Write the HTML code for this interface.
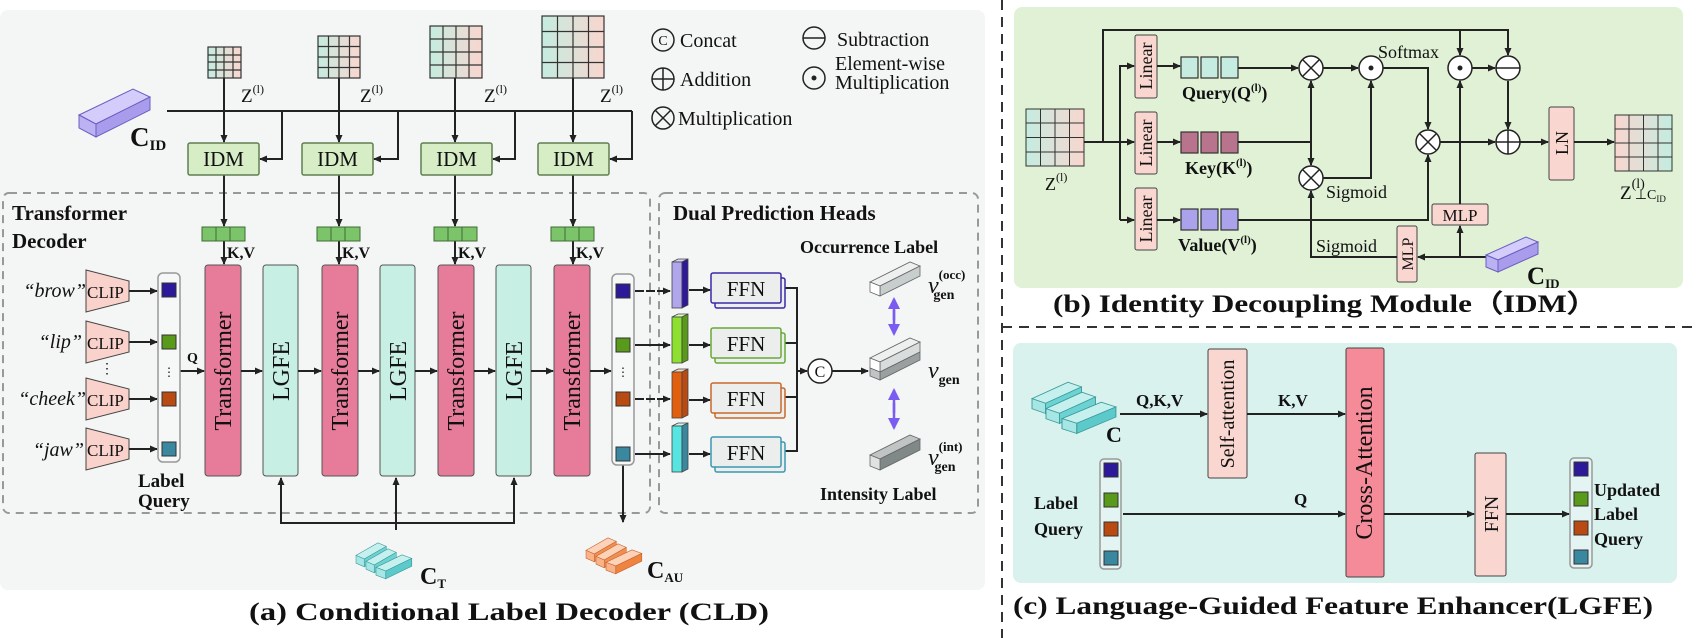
<!DOCTYPE html>
<html><head><meta charset="utf-8"><style>
body{margin:0;background:#fff}
svg{display:block}
text{font-family:"Liberation Serif",serif;fill:#111}
.b{font-weight:bold}
.i{font-style:italic}
</style></head><body>
<svg width="1696" height="638" viewBox="0 0 1696 638" xmlns="http://www.w3.org/2000/svg">
<defs>
<marker id="a" markerWidth="8" markerHeight="8" refX="7" refY="4" orient="auto" markerUnits="userSpaceOnUse"><path d="M0,0.5 L8,4 L0,7.5 Z" fill="#222"/></marker>
<marker id="p" markerWidth="12" markerHeight="12" refX="10" refY="6" orient="auto" markerUnits="userSpaceOnUse"><path d="M0,0 L12,6 L0,12 Z" fill="#7a5cf0"/></marker>
<linearGradient id="g" x1="0" x2="1"><stop offset="0" stop-color="#c4ece0"/><stop offset="1" stop-color="#f9d6cf"/></linearGradient>
<linearGradient id="g2" x1="1" x2="0"><stop offset="0" stop-color="#c4ece0"/><stop offset="1" stop-color="#f9d6cf"/></linearGradient>
</defs>

<rect x="0" y="10" width="985" height="580" rx="8" fill="#f4f5f5"/>
<rect x="1014" y="7" width="669" height="281" rx="8" fill="#e0f1d6"/>
<rect x="1013" y="343" width="664" height="240" rx="8" fill="#d9f2ed"/>
<line x1="1002" y1="0" x2="1002" y2="638" stroke="#333" stroke-width="2" stroke-dasharray="10,7"/>
<line x1="1002" y1="327" x2="1696" y2="327" stroke="#333" stroke-width="2" stroke-dasharray="10,7"/>

<rect x="3" y="193" width="647" height="320" rx="6" fill="none" stroke="#999" stroke-width="2" stroke-dasharray="8,6"/>
<rect x="659" y="193" width="319" height="320" rx="6" fill="none" stroke="#999" stroke-width="2" stroke-dasharray="8,6"/>

<g stroke="#333" stroke-width="1.2">
<rect x="208" y="47" width="33" height="31" fill="url(#g)"/>
<path d="M216,47V78M224,47V78M233,47V78M208,55H241M208,62H241M208,70H241" fill="none"/>
<rect x="318" y="36" width="42" height="42" fill="url(#g)"/>
<path d="M328.5,36V78M339,36V78M349.5,36V78M318,46.5H360M318,57H360M318,67.5H360" fill="none"/>
<rect x="430" y="26" width="52" height="52" fill="url(#g)"/>
<path d="M443,26V78M456,26V78M469,26V78M430,39H482M430,52H482M430,65H482" fill="none"/>
<rect x="542" y="16" width="62" height="62" fill="url(#g)"/>
<path d="M557.5,16V78M573,16V78M588.5,16V78M542,31.5H604M542,47H604M542,62.5H604" fill="none"/>
</g>
<g font-size="19">
<text x="241" y="102">Z<tspan font-size="12" dy="-9">(l)</tspan></text>
<text x="360" y="102">Z<tspan font-size="12" dy="-9">(l)</tspan></text>
<text x="484" y="102">Z<tspan font-size="12" dy="-9">(l)</tspan></text>
<text x="600" y="102">Z<tspan font-size="12" dy="-9">(l)</tspan></text>
</g>
<g stroke="#222" stroke-width="2" fill="none">
<line x1="224" y1="78" x2="224" y2="142" marker-end="url(#a)"/>
<line x1="339" y1="78" x2="339" y2="142" marker-end="url(#a)"/>
<line x1="455" y1="78" x2="455" y2="142" marker-end="url(#a)"/>
<line x1="573" y1="78" x2="573" y2="142" marker-end="url(#a)"/>
<line x1="167" y1="111" x2="632" y2="111"/>
<path d="M282,111V159H260" marker-end="url(#a)"/>
<path d="M398,111V159H374" marker-end="url(#a)"/>
<path d="M515,111V159H493" marker-end="url(#a)"/>
<path d="M632,111V159H610" marker-end="url(#a)"/>
<line x1="224" y1="175" x2="224" y2="226" marker-end="url(#a)"/>
<line x1="339" y1="175" x2="339" y2="226" marker-end="url(#a)"/>
<line x1="455" y1="175" x2="455" y2="226" marker-end="url(#a)"/>
<line x1="573" y1="175" x2="573" y2="226" marker-end="url(#a)"/>
<line x1="224" y1="241" x2="224" y2="264" marker-end="url(#a)"/>
<line x1="339" y1="241" x2="339" y2="264" marker-end="url(#a)"/>
<line x1="455" y1="241" x2="455" y2="264" marker-end="url(#a)"/>
<line x1="573" y1="241" x2="573" y2="264" marker-end="url(#a)"/>
</g>
<g fill="#d6edc6" stroke="#5f7f50" stroke-width="1.5">
<rect x="188" y="143" width="71" height="32" rx="2"/>
<rect x="302" y="143" width="71" height="32" rx="2"/>
<rect x="421" y="143" width="71" height="32" rx="2"/>
<rect x="538" y="143" width="71" height="32" rx="2"/>
</g>
<g font-size="21" text-anchor="middle">
<text x="223.5" y="166">IDM</text><text x="337.5" y="166">IDM</text><text x="456.5" y="166">IDM</text><text x="573.5" y="166">IDM</text>
</g>
<g stroke="#6a5fc0" stroke-width="1">
<polygon points="79,115 133,89 150,97 96,124" fill="#d4cdfb"/>
<polygon points="96,124 150,97 150,110 96,137" fill="#a99cec"/>
<polygon points="79,115 96,124 96,137 79,128" fill="#bcb2f3"/>
</g>
<text x="130" y="146" font-size="27" class="b">C<tspan font-size="15" dy="4">ID</tspan></text>

<g fill="none" stroke="#222" stroke-width="1.5">
<circle cx="663" cy="40" r="11"/><circle cx="663" cy="79" r="11"/><path d="M652,79H674M663,68V90"/>
<circle cx="663" cy="118" r="11"/><path d="M655,110L671,126M671,110L655,126"/>
<circle cx="814" cy="38" r="11"/><path d="M803,38H825"/>
<circle cx="814" cy="78" r="11"/>
</g>
<circle cx="814" cy="78" r="2.5" fill="#222"/>
<text x="663" y="45" font-size="14" text-anchor="middle">C</text>
<g font-size="20">
<text x="680" y="47">Concat</text><text x="680" y="86">Addition</text><text x="678" y="125">Multiplication</text>
<text x="837" y="46">Subtraction</text><text x="835" y="70">Element-wise</text><text x="835" y="89">Multiplication</text>
</g>

<text x="12" y="220" font-size="21" class="b">Transformer</text>
<text x="12" y="248" font-size="21" class="b">Decoder</text>
<g fill="#7cc46a" stroke="#3f6a33" stroke-width="1">
<rect x="202" y="227" width="14" height="14"/><rect x="216" y="227" width="14" height="14"/><rect x="230" y="227" width="15" height="14"/>
<rect x="317" y="227" width="14" height="14"/><rect x="331" y="227" width="14" height="14"/><rect x="345" y="227" width="15" height="14"/>
<rect x="434" y="227" width="14" height="14"/><rect x="448" y="227" width="14" height="14"/><rect x="462" y="227" width="15" height="14"/>
<rect x="551" y="227" width="14" height="14"/><rect x="565" y="227" width="14" height="14"/><rect x="579" y="227" width="15" height="14"/>
</g>
<g font-size="16" class="b">
<text x="227" y="258">K,V</text><text x="342" y="258">K,V</text><text x="458" y="258">K,V</text><text x="576" y="258">K,V</text>
</g>
<g stroke="#555" stroke-width="1">
<rect x="205" y="265" width="36" height="211" rx="3" fill="#e77c9a"/>
<rect x="322" y="265" width="36" height="211" rx="3" fill="#e77c9a"/>
<rect x="438" y="265" width="36" height="211" rx="3" fill="#e77c9a"/>
<rect x="554" y="265" width="36" height="211" rx="3" fill="#e77c9a"/>
<rect x="263" y="265" width="35" height="211" rx="3" fill="#c7efe3"/>
<rect x="380" y="265" width="35" height="211" rx="3" fill="#c7efe3"/>
<rect x="496" y="265" width="35" height="211" rx="3" fill="#c7efe3"/>
</g>
<g font-size="24" text-anchor="middle">
<text transform="translate(231,371) rotate(-90)">Transformer</text>
<text transform="translate(348,371) rotate(-90)">Transformer</text>
<text transform="translate(464,371) rotate(-90)">Transformer</text>
<text transform="translate(580,371) rotate(-90)">Transformer</text>
<text transform="translate(289,371) rotate(-90)">LGFE</text>
<text transform="translate(406,371) rotate(-90)">LGFE</text>
<text transform="translate(522,371) rotate(-90)">LGFE</text>
</g>
<g stroke="#222" stroke-width="2" fill="none">
<line x1="180" y1="371" x2="204" y2="371" marker-end="url(#a)"/>
<line x1="241" y1="371" x2="262" y2="371" marker-end="url(#a)"/>
<line x1="298" y1="371" x2="321" y2="371" marker-end="url(#a)"/>
<line x1="358" y1="371" x2="379" y2="371" marker-end="url(#a)"/>
<line x1="415" y1="371" x2="437" y2="371" marker-end="url(#a)"/>
<line x1="474" y1="371" x2="495" y2="371" marker-end="url(#a)"/>
<line x1="531" y1="371" x2="553" y2="371" marker-end="url(#a)"/>
<line x1="590" y1="371" x2="611" y2="371" marker-end="url(#a)"/>
<path d="M396,530V523H281V478" marker-end="url(#a)"/>
<path d="M396,530V478" marker-end="url(#a)"/>
<path d="M396,523H514V478" marker-end="url(#a)"/>
<line x1="623" y1="465" x2="623" y2="522" marker-end="url(#a)"/>
</g>
<text x="187" y="362" font-size="14" class="b">Q</text>
<g fill="#f9d2cc" stroke="#444" stroke-width="1">
<polygon points="86,270 129,281 129,301 86,312"/>
<polygon points="86,321 129,332 129,352 86,363"/>
<polygon points="86,378 129,389 129,409 86,420"/>
<polygon points="86,428 129,439 129,459 86,470"/>
</g>
<g font-size="17">
<text x="87" y="298">CLIP</text><text x="87" y="349">CLIP</text><text x="87" y="406">CLIP</text><text x="87" y="456">CLIP</text>
</g>
<g font-size="20" class="i" text-anchor="end">
<text x="86" y="297">“brow”</text><text x="82" y="348">“lip”</text><text x="86" y="405">“cheek”</text><text x="84" y="456">“jaw”</text>
</g>
<text x="107" y="373" font-size="14" text-anchor="middle">⋮</text>
<g stroke="#222" stroke-width="2">
<line x1="129" y1="291" x2="157" y2="291" marker-end="url(#a)"/>
<line x1="129" y1="342" x2="157" y2="342" marker-end="url(#a)"/>
<line x1="129" y1="399" x2="157" y2="399" marker-end="url(#a)"/>
<line x1="129" y1="449" x2="157" y2="449" marker-end="url(#a)"/>
</g>
<rect x="158" y="273" width="22" height="189" rx="5" fill="#f6f7f7" stroke="#999" stroke-width="1.5"/>
<rect x="612" y="274" width="22" height="191" rx="5" fill="#f6f7f7" stroke="#999" stroke-width="1.5"/>
<g stroke="#333" stroke-width="1">
<rect x="162" y="283" width="14" height="14" fill="#2d1a9a"/><rect x="162" y="335" width="14" height="14" fill="#5a9a1a"/>
<rect x="162" y="392" width="14" height="14" fill="#b84a12"/><rect x="162" y="442" width="14" height="14" fill="#3a88a0"/>
<rect x="616" y="284" width="14" height="14" fill="#2d1a9a"/><rect x="616" y="338" width="14" height="14" fill="#5a9a1a"/>
<rect x="616" y="392" width="14" height="14" fill="#b84a12"/><rect x="616" y="447" width="14" height="14" fill="#3a88a0"/>
</g>
<text x="169" y="376" font-size="12" text-anchor="middle">⋮</text>
<text x="623" y="376" font-size="12" text-anchor="middle">⋮</text>
<text x="138" y="487" font-size="19" class="b">Label</text>
<text x="138" y="507" font-size="19" class="b">Query</text>

<g stroke="#3a9a9a" stroke-width="1">
<g transform="translate(356,538) scale(0.55,0.6)"><polygon points="0,29 40,8 55,14 15,35" fill="#c6f0ee"/><polygon points="15,35 55,14 55,27 15,48" fill="#6dd2d2"/><polygon points="0,29 15,35 15,48 0,42" fill="#a6e6e4"/></g>
<g transform="translate(366,544) scale(0.55,0.6)"><polygon points="0,29 40,8 55,14 15,35" fill="#c6f0ee"/><polygon points="15,35 55,14 55,27 15,48" fill="#6dd2d2"/><polygon points="0,29 15,35 15,48 0,42" fill="#a6e6e4"/></g>
<g transform="translate(376,550) scale(0.65,0.6)"><polygon points="0,29 40,8 55,14 15,35" fill="#c6f0ee"/><polygon points="15,35 55,14 55,27 15,48" fill="#5ccaca"/><polygon points="0,29 15,35 15,48 0,42" fill="#a6e6e4"/></g>
</g>
<text x="420" y="584" font-size="24" class="b">C<tspan font-size="13" dy="4">T</tspan></text>
<g stroke="#c8602a" stroke-width="1">
<g transform="translate(586,533) scale(0.55,0.6)"><polygon points="0,29 40,8 55,14 15,35" fill="#fcd2b8"/><polygon points="15,35 55,14 55,27 15,48" fill="#f09050"/><polygon points="0,29 15,35 15,48 0,42" fill="#f8b488"/></g>
<g transform="translate(596,539) scale(0.55,0.6)"><polygon points="0,29 40,8 55,14 15,35" fill="#fcd2b8"/><polygon points="15,35 55,14 55,27 15,48" fill="#f09050"/><polygon points="0,29 15,35 15,48 0,42" fill="#f8b488"/></g>
<g transform="translate(606,545) scale(0.65,0.6)"><polygon points="0,29 40,8 55,14 15,35" fill="#fcd2b8"/><polygon points="15,35 55,14 55,27 15,48" fill="#ee8440"/><polygon points="0,29 15,35 15,48 0,42" fill="#f8b488"/></g>
</g>
<text x="647" y="578" font-size="24" class="b">C<tspan font-size="13" dy="4">AU</tspan></text>

<text x="673" y="220" font-size="21" class="b">Dual Prediction Heads</text>
<text x="800" y="253" font-size="18" class="b">Occurrence Label</text>
<text x="820" y="500" font-size="18" class="b">Intensity Label</text>
<g stroke="#222" stroke-width="2" fill="none">
<line x1="635" y1="291" x2="670" y2="291" stroke-dasharray="9,2" marker-end="url(#a)"/>
<line x1="635" y1="345" x2="670" y2="345" marker-end="url(#a)"/>
<line x1="635" y1="399" x2="670" y2="399" stroke-dasharray="9,2" marker-end="url(#a)"/>
<line x1="635" y1="454" x2="670" y2="454" marker-end="url(#a)"/>
<line x1="689" y1="290" x2="710" y2="290" marker-end="url(#a)"/>
<line x1="689" y1="345" x2="710" y2="345" marker-end="url(#a)"/>
<line x1="689" y1="400" x2="710" y2="400" marker-end="url(#a)"/>
<line x1="689" y1="454" x2="710" y2="454" marker-end="url(#a)"/>
<path d="M785,288H797V451H785M785,343H797M785,397H797"/>
<line x1="797" y1="371" x2="807" y2="371" marker-end="url(#a)"/>
<line x1="832" y1="371" x2="868" y2="371" marker-end="url(#a)"/>
</g>
<g stroke="#444" stroke-width="0.8">
<polygon points="672,262 678,259 688,259 682,262" fill="#d8d0f8"/><rect x="672" y="262" width="10" height="46" fill="#b0a6ec"/><polygon points="682,262 688,259 688,305 682,308" fill="#2e1a98"/>
<polygon points="672,317 678,314 688,314 682,317" fill="#dff8c8"/><rect x="672" y="317" width="10" height="46" fill="#8ee030"/><polygon points="682,317 688,314 688,360 682,363" fill="#5a9a1a"/>
<polygon points="672,372 678,369 688,369 682,372" fill="#f8d4bc"/><rect x="672" y="372" width="10" height="46" fill="#e06010"/><polygon points="682,372 688,369 688,415 682,418" fill="#b84a12"/>
<polygon points="672,426 678,423 688,423 682,426" fill="#ccf4ee"/><rect x="672" y="426" width="10" height="46" fill="#58e4e0"/><polygon points="682,426 688,423 688,469 682,472" fill="#3a88a0"/>
</g>
<g stroke-width="1.5" fill="#eceeee">
<rect x="715" y="278" width="70" height="30" rx="2" stroke="#3a2aa8"/><rect x="711" y="273" width="70" height="30" rx="2" stroke="#3a2aa8"/>
<rect x="715" y="333" width="70" height="30" rx="2" stroke="#68a838"/><rect x="711" y="328" width="70" height="30" rx="2" stroke="#68a838"/>
<rect x="715" y="388" width="70" height="30" rx="2" stroke="#c8682a"/><rect x="711" y="383" width="70" height="30" rx="2" stroke="#c8682a"/>
<rect x="715" y="442" width="70" height="30" rx="2" stroke="#3a98b0"/><rect x="711" y="437" width="70" height="30" rx="2" stroke="#3a98b0"/>
</g>
<g font-size="21" text-anchor="middle">
<text x="746" y="296">FFN</text><text x="746" y="351">FFN</text><text x="746" y="406">FFN</text><text x="746" y="460">FFN</text>
</g>
<circle cx="820" cy="371" r="12" fill="#fff" stroke="#222" stroke-width="1.5"/>
<text x="820" y="377" font-size="16" text-anchor="middle">C</text>
<g stroke="#666" stroke-width="0.8">
<polygon points="870,282 910,262 920,266 880,286" fill="#eef0f0"/><polygon points="880,286 920,266 920,276 880,296" fill="#c8cdcd"/><polygon points="870,282 880,286 880,296 870,292" fill="#fff"/>
<polygon points="870,358 910,338 920,342 880,362" fill="#eef0f0"/><polygon points="880,362 920,342 920,352 880,372" fill="#d8dcdc"/><polygon points="880,372 920,352 920,360 880,380" fill="#9aa0a0"/><polygon points="870,358 880,362 880,372 870,368" fill="#fff"/><polygon points="870,368 880,372 880,380 870,376" fill="#c0c4c4"/>
<polygon points="870,455 910,435 920,439 880,459" fill="#c0c4c4"/><polygon points="880,459 920,439 920,450 880,470" fill="#808888"/><polygon points="870,455 880,459 880,470 870,466" fill="#e0e2e2"/>
</g>
<g stroke="#7a5cf0" stroke-width="2.5">
<line x1="894" y1="320" x2="894" y2="299" marker-end="url(#p)"/><line x1="894" y1="310" x2="894" y2="334" marker-end="url(#p)"/>
<line x1="894" y1="413" x2="894" y2="390" marker-end="url(#p)"/><line x1="894" y1="403" x2="894" y2="428" marker-end="url(#p)"/>
</g>
<g font-size="24" class="i">
<text x="928" y="293">v<tspan font-size="13" font-style="normal" font-weight="bold" dy="-14">(occ)</tspan><tspan font-size="14" font-style="normal" font-weight="bold" dx="-32" dy="20">gen</tspan></text>
<text x="928" y="378">v<tspan font-size="14" font-style="normal" font-weight="bold" dy="6">gen</tspan></text>
<text x="928" y="465">v<tspan font-size="13" font-style="normal" font-weight="bold" dy="-14">(int)</tspan><tspan font-size="14" font-style="normal" font-weight="bold" dx="-28" dy="20">gen</tspan></text>
</g>
<text x="509" y="620" font-size="25" class="b" text-anchor="middle" textLength="520" lengthAdjust="spacingAndGlyphs">(a) Conditional Label Decoder (CLD)</text>

<rect x="1026" y="109" width="58" height="57" fill="url(#g)" stroke="#333"/>
<path d="M1040.5,109V166M1055,109V166M1069.5,109V166M1026,123H1084M1026,137.5H1084M1026,152H1084" stroke="#333" fill="none"/>
<text x="1045" y="190" font-size="18">Z<tspan font-size="12" dy="-9">(l)</tspan></text>
<rect x="1615" y="115" width="57" height="56" fill="url(#g2)" stroke="#333"/>
<path d="M1629,115V171M1643.5,115V171M1658,115V171M1615,129H1672M1615,143H1672M1615,157H1672" stroke="#333" fill="none"/>
<text x="1620" y="199" font-size="19">Z<tspan font-size="14" dy="-11">(l)</tspan><tspan font-size="14" dx="-10" dy="11">⊥C</tspan><tspan font-size="9" dy="3">ID</tspan></text>
<g fill="#f9d6cf" stroke="#444" stroke-width="1">
<rect x="1135" y="35" width="22" height="63" rx="2"/><rect x="1135" y="112" width="22" height="62" rx="2"/><rect x="1135" y="188" width="22" height="62" rx="2"/>
<rect x="1549" y="107" width="25" height="73" rx="2"/>
<rect x="1432" y="204" width="56" height="21" rx="2"/>
<rect x="1397" y="226" width="20" height="56" rx="2"/>
</g>
<g font-size="18" text-anchor="middle">
<text transform="translate(1152,66) rotate(-90)">Linear</text>
<text transform="translate(1152,143) rotate(-90)">Linear</text>
<text transform="translate(1152,219) rotate(-90)">Linear</text>
<text transform="translate(1568,143) rotate(-90)">LN</text>
<text transform="translate(1413,254) rotate(-90)" font-size="16">MLP</text>
<text x="1460" y="221" font-size="17">MLP</text>
</g>
<g stroke="#333" stroke-width="1.2">
<rect x="1181" y="57" width="17" height="21" fill="#c6ece2"/><rect x="1201" y="57" width="17" height="21" fill="#c6ece2"/><rect x="1221" y="57" width="17" height="21" fill="#c6ece2"/>
<rect x="1181" y="132" width="17" height="21" fill="#b8748c"/><rect x="1201" y="132" width="17" height="21" fill="#b8748c"/><rect x="1221" y="132" width="17" height="21" fill="#b8748c"/>
<rect x="1181" y="209" width="17" height="21" fill="#aaa2ea"/><rect x="1201" y="209" width="17" height="21" fill="#aaa2ea"/><rect x="1221" y="209" width="17" height="21" fill="#aaa2ea"/>
</g>
<g font-size="18" class="b">
<text x="1182" y="99">Query(Q<tspan font-size="11" dy="-8">(l)</tspan><tspan dy="8">)</tspan></text>
<text x="1185" y="174">Key(K<tspan font-size="11" dy="-8">(l)</tspan><tspan dy="8">)</tspan></text>
<text x="1178" y="251">Value(V<tspan font-size="11" dy="-8">(l)</tspan><tspan dy="8">)</tspan></text>
</g>
<g font-size="18">
<text x="1378" y="58">Softmax</text><text x="1326" y="198">Sigmoid</text><text x="1316" y="252">Sigmoid</text>
</g>
<g stroke="#222" stroke-width="2" fill="none">
<path d="M1084,142H1134" marker-end="url(#a)"/>
<path d="M1103,142V30H1508V55" marker-end="url(#a)"/>
<path d="M1460,30V55" marker-end="url(#a)"/>
<path d="M1120,220V66H1134" marker-end="url(#a)"/>
<path d="M1120,220H1134" marker-end="url(#a)"/>
<path d="M1157,66H1180" marker-end="url(#a)"/>
<path d="M1157,142H1180" marker-end="url(#a)"/>
<path d="M1157,220H1180" marker-end="url(#a)"/>
<path d="M1238,68H1298" marker-end="url(#a)"/>
<path d="M1323,68H1358" marker-end="url(#a)"/>
<path d="M1238,142H1311"/>
<path d="M1311,142V81" marker-end="url(#a)"/>
<path d="M1311,142V165" marker-end="url(#a)"/>
<path d="M1323,178H1371V81" marker-end="url(#a)"/>
<path d="M1383,68H1428V129" marker-end="url(#a)"/>
<path d="M1238,220H1428V155" marker-end="url(#a)"/>
<path d="M1472,68H1495" marker-end="url(#a)"/>
<path d="M1508,81V129" marker-end="url(#a)"/>
<path d="M1440,142H1495" marker-end="url(#a)"/>
<path d="M1520,142H1548" marker-end="url(#a)"/>
<path d="M1574,142H1614" marker-end="url(#a)"/>
<path d="M1460,204V81" marker-end="url(#a)"/>
<path d="M1486,257H1418" marker-end="url(#a)"/>
<path d="M1460,257V226" marker-end="url(#a)"/>
<path d="M1397,257H1311V191" marker-end="url(#a)"/>
</g>
<g fill="#fff" stroke="#222" stroke-width="1.5">
<circle cx="1311" cy="68" r="12"/><circle cx="1371" cy="68" r="12"/><circle cx="1311" cy="178" r="12"/>
<circle cx="1428" cy="142" r="12"/><circle cx="1460" cy="68" r="12"/><circle cx="1508" cy="68" r="12"/><circle cx="1508" cy="142" r="12"/>
</g>
<g stroke="#222" stroke-width="1.5" fill="none">
<path d="M1303,60L1319,76M1319,60L1303,76M1303,170L1319,186M1319,170L1303,186M1420,134L1436,150M1436,134L1420,150"/>
<path d="M1496,68H1520M1496,142H1520M1508,130V154"/>
</g>
<circle cx="1371" cy="68" r="2.5" fill="#222"/><circle cx="1460" cy="68" r="2.5" fill="#222"/>
<g stroke="#6a5fc0" stroke-width="1">
<polygon points="1486,255 1526,237 1538,242 1498,260" fill="#d4cdfb"/>
<polygon points="1498,260 1538,242 1538,254 1498,272" fill="#a99cec"/>
<polygon points="1486,255 1498,260 1498,272 1486,267" fill="#bcb2f3"/>
</g>
<text x="1527" y="284" font-size="25" class="b">C<tspan font-size="13" dy="4">ID</tspan></text>
<text x="1053" y="312" font-size="25" class="b" textLength="545" lengthAdjust="spacingAndGlyphs">(b) Identity Decoupling Module（IDM）</text>

<g stroke="#3a9a9a" stroke-width="1">
<g transform="translate(1032,376) scale(0.9,0.78)"><polygon points="0,29 40,8 55,14 15,35" fill="#c6f0ee"/><polygon points="15,35 55,14 55,27 15,48" fill="#6dd2d2"/><polygon points="0,29 15,35 15,48 0,42" fill="#a6e6e4"/></g>
<g transform="translate(1046,386) scale(0.9,0.78)"><polygon points="0,29 40,8 55,14 15,35" fill="#c6f0ee"/><polygon points="15,35 55,14 55,27 15,48" fill="#6dd2d2"/><polygon points="0,29 15,35 15,48 0,42" fill="#a6e6e4"/></g>
<g transform="translate(1062,396) scale(0.98,0.78)"><polygon points="0,29 40,8 55,14 15,35" fill="#c6f0ee"/><polygon points="15,35 55,14 55,27 15,48" fill="#5ccaca"/><polygon points="0,29 15,35 15,48 0,42" fill="#a6e6e4"/></g>
</g>
<text x="1106" y="442" font-size="22" class="b">C</text>
<rect x="1208" y="349" width="39" height="129" rx="2" fill="#f9d6cf" stroke="#444"/>
<rect x="1346" y="348" width="38" height="229" rx="2" fill="#f58a98" stroke="#444"/>
<rect x="1475" y="453" width="31" height="123" rx="2" fill="#f9d6cf" stroke="#444"/>
<g font-size="20" text-anchor="middle">
<text transform="translate(1234,414) rotate(-90)">Self-attention</text>
<text transform="translate(1372,463) rotate(-90)" font-size="24">Cross-Attention</text>
<text transform="translate(1498,514) rotate(-90)">FFN</text>
</g>
<g stroke="#222" stroke-width="2">
<line x1="1120" y1="414" x2="1207" y2="414" marker-end="url(#a)"/>
<line x1="1247" y1="414" x2="1345" y2="414" marker-end="url(#a)"/>
<line x1="1123" y1="514" x2="1345" y2="514" marker-end="url(#a)"/>
<line x1="1384" y1="514" x2="1474" y2="514" marker-end="url(#a)"/>
<line x1="1506" y1="514" x2="1569" y2="514" marker-end="url(#a)"/>
</g>
<g font-size="17" class="b">
<text x="1136" y="406">Q,K,V</text><text x="1278" y="406">K,V</text><text x="1294" y="505">Q</text>
</g>
<rect x="1100" y="459" width="21" height="110" rx="4" fill="#e4f4f2" stroke="#999" stroke-width="1.5"/>
<rect x="1570" y="458" width="22" height="110" rx="4" fill="#e4f4f2" stroke="#999" stroke-width="1.5"/>
<g stroke="#333" stroke-width="1">
<rect x="1104" y="463" width="14" height="14" fill="#2d1a9a"/><rect x="1104" y="493" width="14" height="14" fill="#5a9a1a"/>
<rect x="1104" y="522" width="14" height="14" fill="#b84a12"/><rect x="1104" y="551" width="14" height="14" fill="#3a88a0"/>
<rect x="1574" y="462" width="14" height="14" fill="#2d1a9a"/><rect x="1574" y="492" width="14" height="14" fill="#5a9a1a"/>
<rect x="1574" y="521" width="14" height="14" fill="#b84a12"/><rect x="1574" y="550" width="14" height="14" fill="#3a88a0"/>
</g>
<g font-size="18" class="b">
<text x="1034" y="509">Label</text><text x="1034" y="535">Query</text>
<text x="1594" y="496">Updated</text><text x="1594" y="520">Label</text><text x="1594" y="545">Query</text>
</g>
<text x="1013" y="614" font-size="25" class="b" textLength="640" lengthAdjust="spacingAndGlyphs">(c) Language-Guided Feature Enhancer(LGFE)</text>
</svg>
</body></html>
